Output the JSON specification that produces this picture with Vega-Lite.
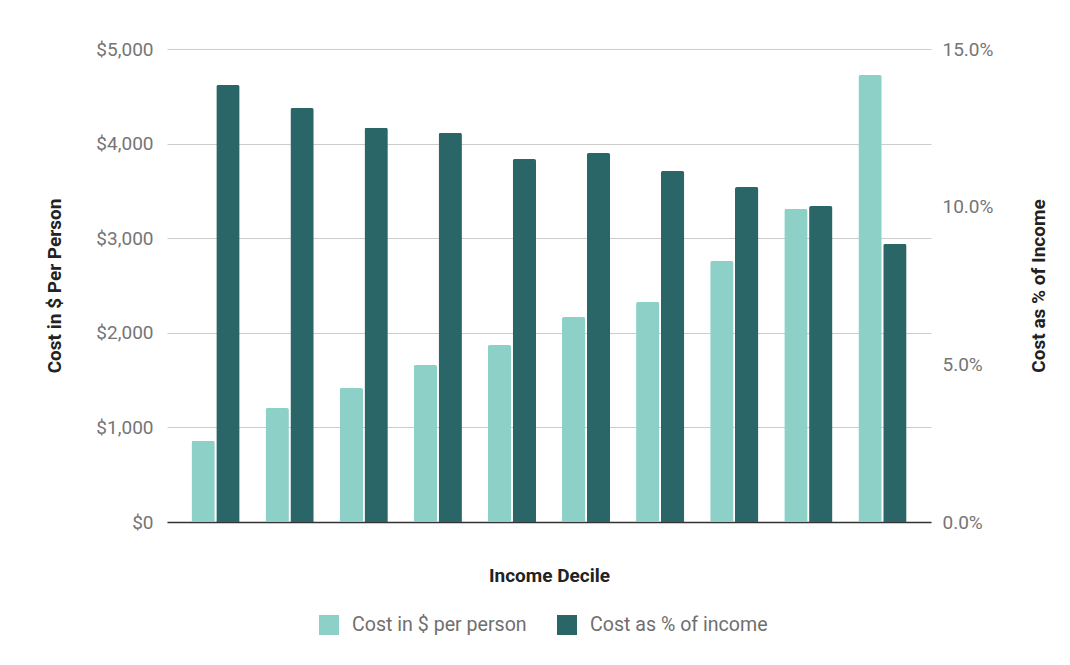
{
  "$schema": "https://vega.github.io/schema/vega-lite/v6.json",
  "width": 764,
  "height": 473,
  "autosize": {"type": "none"},
  "padding": {"left": 167, "top": 49, "right": 139, "bottom": 143},
  "background": "white",
  "config": {
    "font": "Roboto",
    "view": {"stroke": null},
    "axis": {"labelFont": "Roboto", "titleFont": "Roboto"}
  },
  "data": {
    "values": [
      {"decile": 1, "series": "Cost in $ per person", "value": 860},
      {"decile": 2, "series": "Cost in $ per person", "value": 1205},
      {"decile": 3, "series": "Cost in $ per person", "value": 1416},
      {"decile": 4, "series": "Cost in $ per person", "value": 1660},
      {"decile": 5, "series": "Cost in $ per person", "value": 1871},
      {"decile": 6, "series": "Cost in $ per person", "value": 2167},
      {"decile": 7, "series": "Cost in $ per person", "value": 2326},
      {"decile": 8, "series": "Cost in $ per person", "value": 2759},
      {"decile": 9, "series": "Cost in $ per person", "value": 3309},
      {"decile": 10, "series": "Cost in $ per person", "value": 4725},
      {"decile": 1, "series": "Cost as % of income", "value": 0.1386},
      {"decile": 2, "series": "Cost as % of income", "value": 0.1313},
      {"decile": 3, "series": "Cost as % of income", "value": 0.1250},
      {"decile": 4, "series": "Cost as % of income", "value": 0.1234},
      {"decile": 5, "series": "Cost as % of income", "value": 0.1151},
      {"decile": 6, "series": "Cost as % of income", "value": 0.1170},
      {"decile": 7, "series": "Cost as % of income", "value": 0.1113},
      {"decile": 8, "series": "Cost as % of income", "value": 0.1062},
      {"decile": 9, "series": "Cost as % of income", "value": 0.1002},
      {"decile": 10, "series": "Cost as % of income", "value": 0.0882}
    ]
  },
  "encoding": {
    "x": {
      "field": "decile",
      "type": "ordinal",
      "scale": {"paddingInner": 0.35, "paddingOuter": 0.33},
      "axis": {
        "title": "Income Decile",
        "labels": false,
        "ticks": false,
        "domainColor": "#333333",
        "domainWidth": 1.5,
        "titleFontSize": 19,
        "titleFontWeight": "bold",
        "titleColor": "#222222",
        "titlePadding": 44
      }
    },
    "xOffset": {
      "field": "series",
      "type": "nominal",
      "sort": ["Cost in $ per person", "Cost as % of income"],
      "scale": {"paddingInner": 0.06}
    },
    "color": {
      "field": "series",
      "type": "nominal",
      "sort": ["Cost in $ per person", "Cost as % of income"],
      "scale": {
        "domain": ["Cost in $ per person", "Cost as % of income"],
        "range": ["#8dd0c7", "#2a6667"]
      },
      "legend": {
        "title": null,
        "orient": "none",
        "legendX": 152,
        "legendY": 566,
        "direction": "horizontal",
        "symbolType": "square",
        "symbolSize": 400,
        "symbolStrokeWidth": 0,
        "symbolOpacity": 1,
        "labelFontSize": 19.6,
        "labelColor": "#6f6f6f",
        "labelOffset": 13,
        "labelLimit": 0,
        "columnPadding": 30,
        "labelFont": "Roboto"
      }
    }
  },
  "layer": [
    {
      "transform": [{"filter": "datum.series === 'Cost in $ per person'"}],
      "mark": {"type": "bar", "cornerRadiusTopLeft": 2, "cornerRadiusTopRight": 2},
      "encoding": {
        "y": {
          "field": "value",
          "type": "quantitative",
          "scale": {"domain": [0, 5000]},
          "axis": {
            "title": "Cost in $ Per Person",
            "orient": "left",
            "values": [0, 1000, 2000, 3000, 4000, 5000],
            "format": "$,.0f",
            "domain": false,
            "ticks": false,
            "labelPadding": 14,
            "labelFontSize": 19,
            "labelColor": "#757575",
            "gridColor": "#cccccc",
            "gridWidth": 1,
            "titleFontSize": 19,
            "titleFontWeight": "bold",
            "titleColor": "#222222",
            "titlePadding": 31
          }
        }
      }
    },
    {
      "transform": [{"filter": "datum.series === 'Cost as % of income'"}],
      "mark": {"type": "bar", "cornerRadiusTopLeft": 2, "cornerRadiusTopRight": 2},
      "encoding": {
        "y": {
          "field": "value",
          "type": "quantitative",
          "scale": {"domain": [0, 0.15]},
          "axis": {
            "title": "Cost as % of Income",
            "orient": "right",
            "values": [0, 0.05, 0.1, 0.15],
            "format": ".1%",
            "domain": false,
            "ticks": false,
            "grid": false,
            "labelPadding": 11,
            "labelFontSize": 19,
            "labelColor": "#757575",
            "titleFontSize": 19,
            "titleFontWeight": "bold",
            "titleColor": "#222222",
            "titleAngle": 270,
            "titlePadding": 56
          }
        }
      }
    }
  ],
  "resolve": {"scale": {"y": "independent"}}
}
